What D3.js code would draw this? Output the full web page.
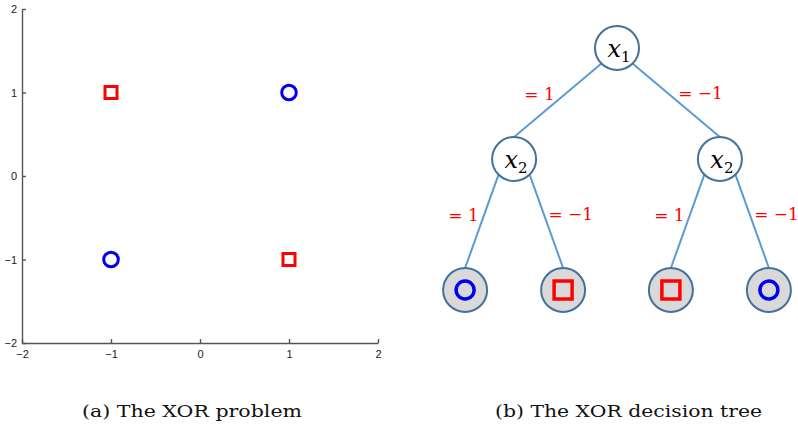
<!DOCTYPE html>
<html>
<head>
<meta charset="utf-8">
<script src="https://cdn.jsdelivr.net/npm/d3@7"></script>
<style>
  body { margin: 0; background: #fff; }
  svg { display: block; }
</style>
</head>
<body>
<svg id="fig" width="798" height="425"></svg>
<script>
// (a) XOR points
const pointX = [-1, 1, -1, 1];
const pointY = [1, 1, -1, -1];
const pointClass = ["square", "circle", "circle", "square"];
const axisTicks = [-2, -1, 0, 1, 2];

// (b) decision tree
const nodeIds = ["root", "a", "b", "aa", "ab", "ba", "bb"];
const parentIds = ["", "root", "root", "a", "a", "b", "b"];
const nodeVar = ["1", "2", "2", null, null, null, null];
const leafClass = [null, null, null, "circle", "square", "square", "circle"];
const edgeLabel = [null, "= 1", "= \u22121", "= 1", "= \u22121", "= 1", "= \u22121"];

const captions = ["(a) The XOR problem", "(b) The XOR decision tree"];

const svg = d3.select("#fig");
const RED = "#ff0000", BLUE = "#0000ee";

// ---- left panel ----
const x = d3.scaleLinear().domain([-2, 2]).range([22, 378]);
const y = d3.scaleLinear().domain([-2, 2]).range([343, 9]);

const left = svg.append("g");

const xAxis = left.append("g")
  .attr("transform", `translate(0,${y(-2)})`)
  .call(d3.axisBottom(x).tickValues(axisTicks).tickFormat(d3.format("d"))
    .tickSizeInner(-4).tickSizeOuter(0).tickPadding(7));
const yAxis = left.append("g")
  .attr("transform", `translate(${x(-2)},0)`)
  .call(d3.axisLeft(y).tickValues(axisTicks).tickFormat(d3.format("d"))
    .tickSizeInner(-4).tickSizeOuter(0).tickPadding(5));

[xAxis, yAxis].forEach(g => {
  g.selectAll("path, line").attr("stroke", "#555").attr("stroke-width", 1.4);
  g.selectAll("text").attr("fill", "#222")
    .style("font-family", "'Liberation Sans', Arial, sans-serif").style("font-size", "11px");
});

const pts = pointX.map((v, i) => ({ x: v, y: pointY[i], c: pointClass[i] }));

left.selectAll("rect.pt")
  .data(pts.filter(d => d.c === "square"))
  .join("rect")
  .attr("class", "pt")
  .attr("x", d => x(d.x) - 6).attr("y", d => y(d.y) - 6)
  .attr("width", 12).attr("height", 12)
  .attr("fill", "none").attr("stroke", RED).attr("stroke-width", 3);

left.selectAll("circle.pt")
  .data(pts.filter(d => d.c === "circle"))
  .join("circle")
  .attr("class", "pt")
  .attr("cx", d => x(d.x)).attr("cy", d => y(d.y)).attr("r", 7.3)
  .attr("fill", "none").attr("stroke", BLUE).attr("stroke-width", 3);

// ---- right panel: tree ----
const root = d3.stratify()
  .id((d, i) => nodeIds[i])
  .parentId((d, i) => parentIds[i] || null)(nodeIds.map((id, i) => i));

d3.tree()
  .nodeSize([98, 1])
  .separation((a, b) => a.parent === b.parent ? 1 : 1.1)(root);

const levelY = d3.scaleLinear().domain([0, 1, 2]).range([48, 159, 290]);
const R = 22;
const k = Math.SQRT1_2;

const tree = svg.append("g").attr("transform", "translate(617,0)");

const links = root.links().map(l => {
  const isLeft = l.source.children[0] === l.target;
  const sx = l.source.x + (isLeft ? -1 : 1) * R * k;
  const sy = levelY(l.source.depth) + R * k;
  const tx = l.target.x;
  const ty = levelY(l.target.depth) - R;
  return { sx, sy, tx, ty, isLeft, label: edgeLabel[l.target.data] };
});

tree.selectAll("line.edge")
  .data(links)
  .join("line")
  .attr("class", "edge")
  .attr("x1", d => d.sx).attr("y1", d => d.sy)
  .attr("x2", d => d.tx).attr("y2", d => d.ty)
  .attr("stroke", "#5b9bd5").attr("stroke-width", 2);

tree.selectAll("text.elab")
  .data(links)
  .join("text")
  .attr("class", "elab")
  .attr("x", d => (d.sx + d.tx) / 2 + (d.isLeft ? -3 : 2))
  .attr("y", d => (d.sy + d.ty) / 2 + (d.isLeft ? 0 : -1))
  .attr("text-anchor", d => d.isLeft ? "end" : "start")
  .attr("fill", RED)
  .style("font-family", "'DejaVu Serif', serif").style("font-size", "17px")
  .text(d => d.label);

const nodes = tree.selectAll("g.node")
  .data(root.descendants())
  .join("g")
  .attr("class", "node")
  .attr("transform", d => `translate(${d.x},${levelY(d.depth)})`);

nodes.append("circle")
  .attr("r", R)
  .attr("fill", d => d.children ? "#fff" : "#d9d9d9")
  .attr("stroke", "#41719c").attr("stroke-width", 2);

const inner = nodes.filter(d => d.children);
const lab = inner.append("text")
  .attr("x", 2).attr("y", 9)
  .attr("text-anchor", "middle")
  .style("font-family", "'DejaVu Serif', serif");
lab.append("tspan").style("font-style", "italic").style("font-size", "24px").text("x");
lab.append("tspan").attr("dy", 5).style("font-size", "15px").text(d => nodeVar[d.data]);

nodes.filter(d => leafClass[d.data] === "circle").append("circle")
  .attr("r", 9).attr("fill", "none").attr("stroke", BLUE).attr("stroke-width", 3.5);
nodes.filter(d => leafClass[d.data] === "square").append("rect")
  .attr("x", -9).attr("y", -9).attr("width", 18).attr("height", 18)
  .attr("fill", "none").attr("stroke", RED).attr("stroke-width", 3.5);

// ---- captions ----
svg.selectAll("text.cap")
  .data(captions)
  .join("text")
  .attr("class", "cap")
  .attr("x", (d, i) => i === 0 ? 82 : 495)
  .attr("y", 417)
  .attr("textLength", (d, i) => i === 0 ? 220 : 267)
  .attr("lengthAdjust", "spacingAndGlyphs")
  .attr("fill", "#111")
  .style("font-family", "'DejaVu Serif', serif").style("font-size", "17px")
  .text(d => d);
</script>
</body>
</html>
